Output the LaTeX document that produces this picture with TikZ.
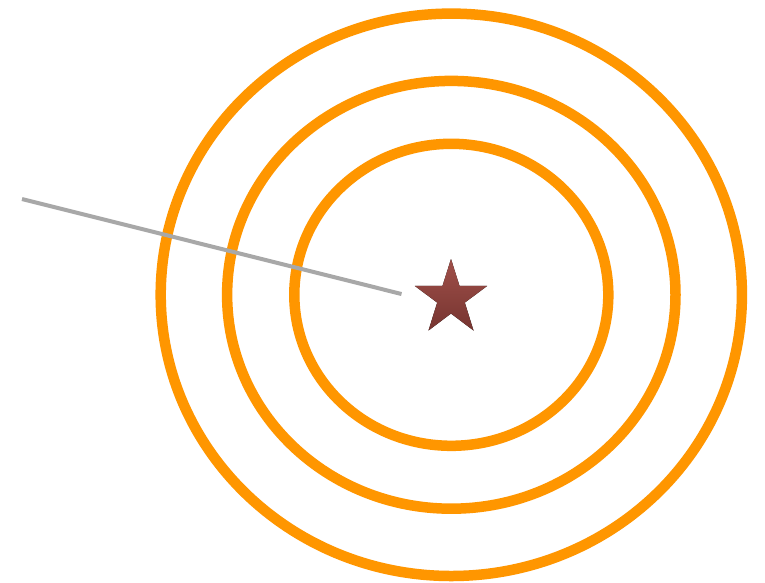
\documentclass[tikz,border=0pt]{standalone}
\begin{document}
\begin{tikzpicture}[x=1pt,y=-1pt,
  ring/.style={draw={rgb,255:red,255;green,150;blue,0},line width=10.5pt},
  pointer/.style={draw={rgb,255:red,168;green,168;blue,168},line width=4pt},
  starshape/.style={top color={rgb,255:red,160;green,80;blue,74},bottom color={rgb,255:red,118;green,52;blue,48},draw=none}]
\useasboundingbox[fill=white] (0,0) rectangle (765,582);
\coordinate (c) at (451.3,294.8);
\draw[ring] (c) ellipse [x radius=290.6, y radius=281.2];
\draw[ring] (c) ellipse [x radius=224.2, y radius=213.9];
\draw[ring] (c) ellipse [x radius=157, y radius=151];
\coordinate (p1) at (22,199);
\coordinate (p2) at (401.5,294);
\draw[pointer] (p1) -- (p2);
\fill[starshape] (451,259) -- (459.5,285.9) -- (487.2,285.9) -- (464.8,302.6) -- (473.5,330.5)
  -- (451,313.5) -- (428.5,330.5) -- (437.2,302.6) -- (414.8,285.9) -- (442.5,285.9) -- cycle;
\end{tikzpicture}
\end{document}
